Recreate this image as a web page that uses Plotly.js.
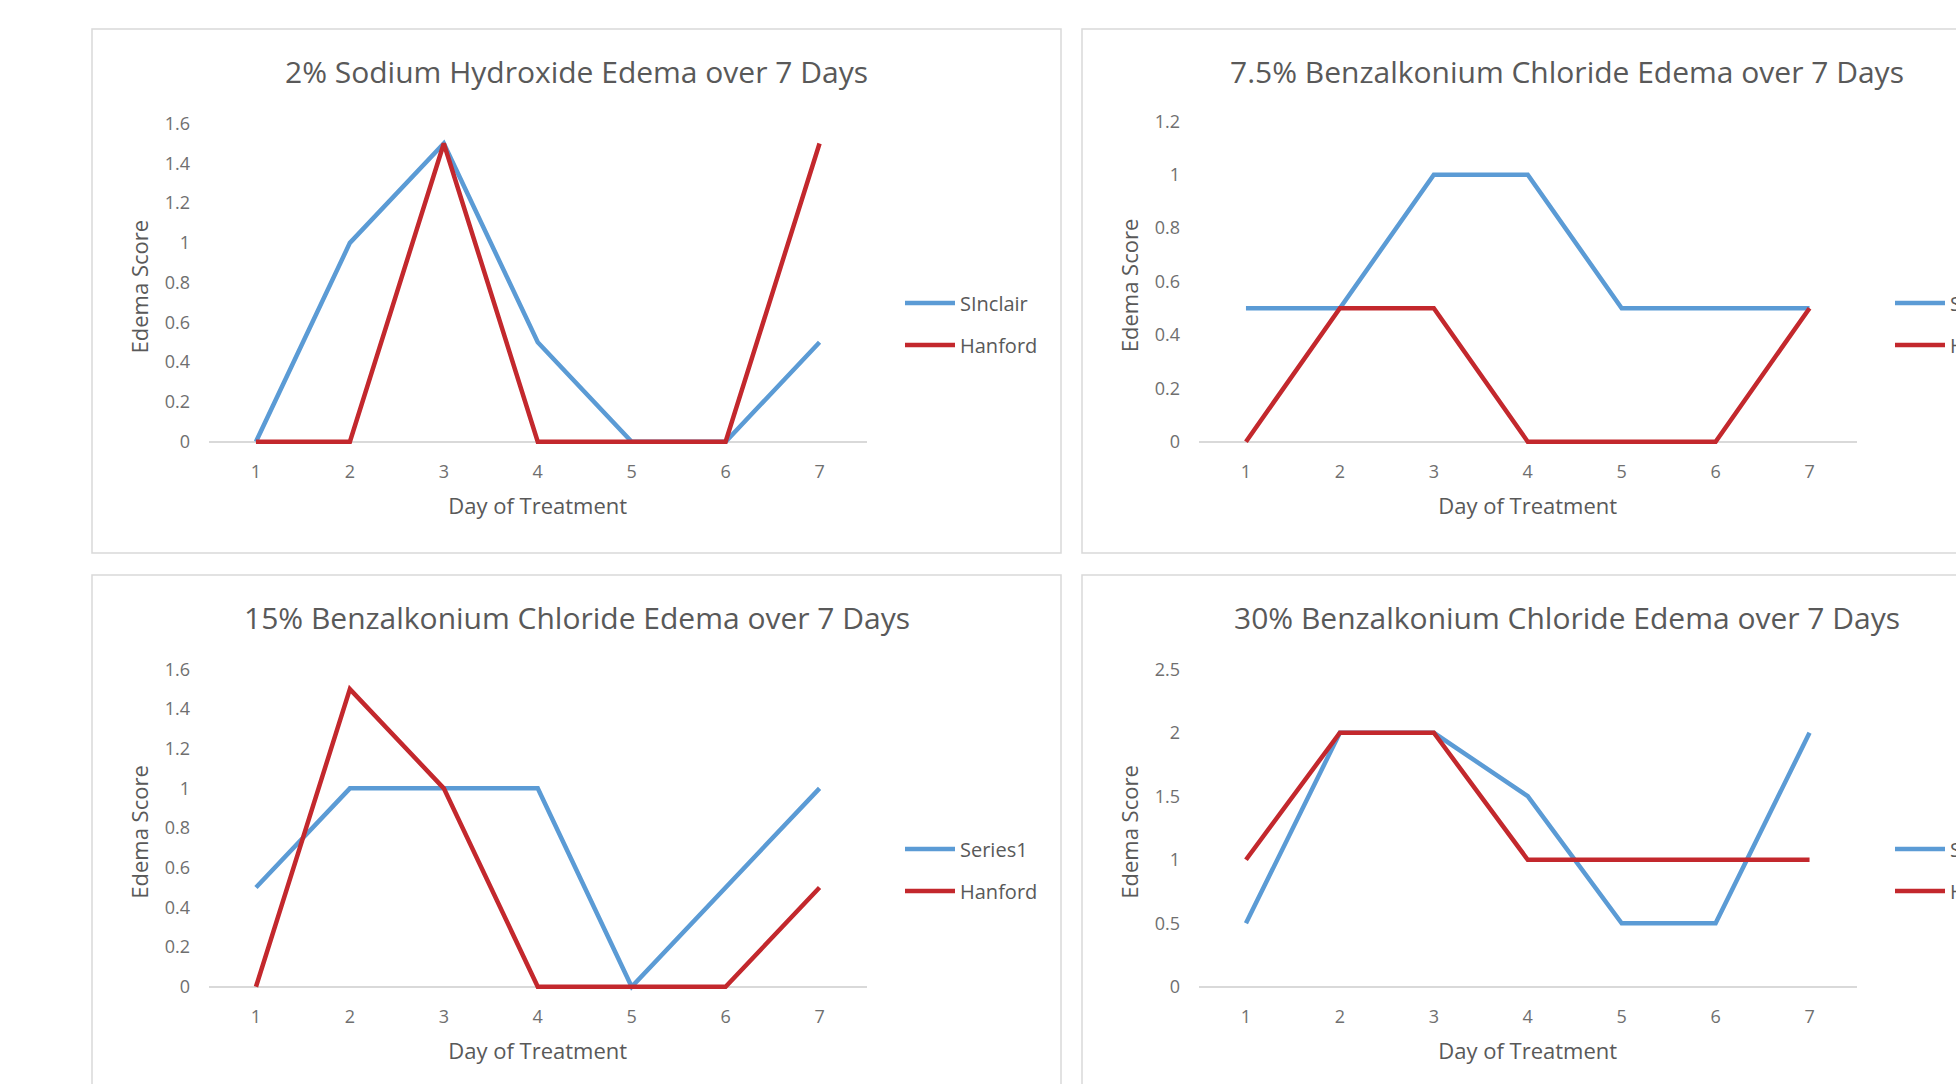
<!DOCTYPE html>
<html>
<head>
<meta charset="utf-8">
<script src="https://cdn.plot.ly/plotly-3.0.1.min.js"></script>
<style>
  html, body { margin: 0; padding: 0; background: #ffffff; overflow: hidden; }
  #chart { width: 2100px; height: 1084px; }
</style>
</head>
<body>
<div id="chart"></div>
<script>
// ---- data ----
const days = [1, 2, 3, 4, 5, 6, 7];
const dayLabels = ['1', '2', '3', '4', '5', '6', '7'];

const naohSinclair = [0, 1, 1.5, 0.5, 0, 0, 0.5];
const naohHanford  = [0, 0, 1.5, 0, 0, 0, 1.5];

const bac75Sinclair = [0.5, 0.5, 1, 1, 0.5, 0.5, 0.5];
const bac75Hanford  = [0, 0.5, 0.5, 0, 0, 0, 0.5];

const bac15Series1 = [0.5, 1, 1, 1, 0, 0.5, 1];
const bac15Hanford = [0, 1.5, 1, 0, 0, 0, 0.5];

const bac30Sinclair = [0.5, 2, 2, 1.5, 0.5, 0.5, 2];
const bac30Hanford  = [1, 2, 2, 1, 1, 1, 1];

const panelTitles = [
  '2% Sodium Hydroxide Edema over 7 Days',
  '7.5% Benzalkonium Chloride Edema over 7 Days',
  '15% Benzalkonium Chloride Edema over 7 Days',
  '30% Benzalkonium Chloride Edema over 7 Days'
];
const seriesNames = [
  ['SInclair', 'Hanford'],
  ['Sinclair', 'Hanford'],
  ['Series1', 'Hanford'],
  ['Sinclair', 'Hanford']
];
const seriesValues = [
  [naohSinclair, naohHanford],
  [bac75Sinclair, bac75Hanford],
  [bac15Series1, bac15Hanford],
  [bac30Sinclair, bac30Hanford]
];
const yTickVals16 = [0, 0.2, 0.4, 0.6, 0.8, 1, 1.2, 1.4, 1.6];
const yTickText16 = ['0', '0.2', '0.4', '0.6', '0.8', '1', '1.2', '1.4', '1.6'];
const yTickVals12 = [0, 0.2, 0.4, 0.6, 0.8, 1, 1.2];
const yTickText12 = ['0', '0.2', '0.4', '0.6', '0.8', '1', '1.2'];
const yTickVals25 = [0, 0.5, 1, 1.5, 2, 2.5];
const yTickText25 = ['0', '0.5', '1', '1.5', '2', '2.5'];
const yTicks = [
  [yTickVals16, yTickText16],
  [yTickVals12, yTickText12],
  [yTickVals16, yTickText16],
  [yTickVals25, yTickText25]
];
const yMax = [1.6, 1.2, 1.6, 2.5];
const xTitle = 'Day of Treatment';
const yTitle = 'Edema Score';

// ---- layout geometry (pixels) ----
const W = 2100, H = 1084;
const px = v => v / W;
const py = v => 1 - v / H;

const panels = [
  {bx0: 92,   bx1: 1061, by0: 29,  by1: 553,  L: 209,  R: 866.5,  y0: 441.7, yt: 123.6},
  {bx0: 1082, bx1: 2051, by0: 29,  by1: 553,  L: 1199, R: 1856.5, y0: 441.7, yt: 121.3},
  {bx0: 92,   bx1: 1061, by0: 575, by1: 1099, L: 209,  R: 866.5,  y0: 986.7, yt: 669.3},
  {bx0: 1082, bx1: 2051, by0: 575, by1: 1099, L: 1199, R: 1856.5, y0: 986.7, yt: 669.3}
];

const BLUE = '#5B9BD5';
const RED = '#C3282D';
const colors = [BLUE, RED];
const FONT = 'Open Sans, Noto Sans, sans-serif';
const TITLE_C = '#595959';
const TICK_C = '#6f6f6f';
const PAD = 8;

const traces = [];
const layout = {
  width: W, height: H,
  margin: {l: 0, r: 0, t: 0, b: 0, pad: 0},
  paper_bgcolor: '#ffffff',
  plot_bgcolor: 'rgba(0,0,0,0)',
  font: {family: FONT, color: TITLE_C},
  showlegend: true,
  shapes: [],
  annotations: []
};

panels.forEach((p, i) => {
  const n = i + 1;
  const xa = 'xaxis' + (n === 1 ? '' : n);
  const ya = 'yaxis' + (n === 1 ? '' : n);
  const xr = 'x' + (n === 1 ? '' : n);
  const yr = 'y' + (n === 1 ? '' : n);
  const lg = 'legend' + (n === 1 ? '' : n);
  const ppu = (p.y0 - p.yt) / yMax[i];
  const yBottom = p.y0 + PAD;

  layout[xa] = {
    domain: [px(p.L), px(p.R)],
    range: [0.5, 7.5],
    anchor: yr,
    showgrid: false, zeroline: false, showline: false,
    ticks: '',
    tickvals: days, ticktext: dayLabels,
    ticklabelstandoff: 9,
    tickfont: {family: FONT, size: 18, color: TICK_C},
    fixedrange: true,
    title: {text: xTitle, font: {family: FONT, size: 22, color: TITLE_C}, standoff: 16}
  };
  layout[ya] = {
    domain: [py(yBottom), py(p.yt)],
    range: [-PAD / ppu, yMax[i]],
    anchor: xr,
    showgrid: false, showline: false,
    zeroline: true, zerolinecolor: '#d9d9d9', zerolinewidth: 1.6,
    ticks: '',
    tickvals: yTicks[i][0], ticktext: yTicks[i][1],
    ticklabelstandoff: 18,
    tickfont: {family: FONT, size: 18, color: TICK_C},
    fixedrange: true,
    title: {text: yTitle, font: {family: FONT, size: 22, color: TITLE_C}, standoff: 9}
  };

  seriesValues[i].forEach((vals, k) => {
    traces.push({
      type: 'scatter', mode: 'lines',
      x: days, y: vals,
      name: seriesNames[i][k],
      xaxis: xr, yaxis: yr,
      legend: lg,
      legendgroup: 'p' + n + 's' + k,
      line: {color: colors[k], width: 4.5},
      hoverinfo: 'skip'
    });
  });

  layout[lg] = {
    x: px(p.bx0 + 808), xanchor: 'left',
    y: py((p.by0 + 295)), yanchor: 'middle',
    xref: 'paper', yref: 'paper',
    bgcolor: 'rgba(0,0,0,0)', borderwidth: 0,
    font: {family: FONT, size: 20, color: TITLE_C},
    tracegroupgap: 13,
    itemwidth: 50
  };

  layout.shapes.push({
    type: 'rect', xref: 'paper', yref: 'paper',
    x0: px(p.bx0), x1: px(p.bx1), y0: py(p.by0), y1: py(p.by1),
    line: {color: '#d9d9d9', width: 1.5}, fillcolor: 'rgba(0,0,0,0)', layer: 'below'
  });

  layout.annotations.push({
    xref: 'paper', yref: 'paper',
    x: px((p.bx0 + p.bx1) / 2), y: py(p.by0 + 42),
    xanchor: 'center', yanchor: 'middle',
    text: panelTitles[i], showarrow: false,
    font: {family: FONT, size: 30, color: TITLE_C}
  });
});

Plotly.newPlot('chart', traces, layout, {displayModeBar: false, staticPlot: true});
</script>
</body>
</html>
